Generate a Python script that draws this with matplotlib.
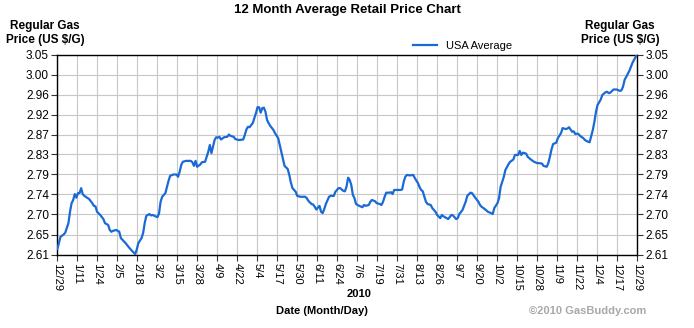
import matplotlib
matplotlib.use('Agg')
import matplotlib.pyplot as plt
import numpy as np

plt.rcParams['font.family'] = ['Liberation Sans', 'DejaVu Sans']

# daily average price, day 0 = 12/29/2009
days = [0, 1, 2, 4, 5, 7, 8, 9, 10, 11, 12, 13, 14, 15, 16, 17, 20, 22, 23, 24,
        25, 27, 29, 30, 32, 33, 34, 35, 37, 39, 40, 43, 45, 47, 49, 50, 51, 53, 54, 55,
        56, 58, 59, 60, 63, 64, 65, 66, 68, 69, 70, 71, 73, 75, 76, 77, 78, 79, 81, 84,
        85, 86, 87, 88, 90, 91, 93, 94, 95, 96, 97, 98, 99, 100, 101, 102, 103, 105, 107, 108,
        109, 111, 112, 114, 115, 117, 118, 119, 120, 121, 123, 124, 125, 126, 127, 128, 129, 130, 131, 132,
        133, 134, 136, 137, 139, 140, 141, 142, 143, 145, 146, 147, 148, 150, 151, 153, 154, 156, 157, 158,
        160, 161, 162, 163, 165, 166, 167, 168, 169, 171, 172, 174, 175, 177, 178, 180, 181, 182, 183, 184,
        185, 186, 187, 188, 190, 192, 193, 194, 196, 197, 198, 200, 201, 203, 204, 205, 206, 207, 209, 210,
        211, 212, 214, 216, 217, 218, 219, 220, 222, 224, 225, 227, 228, 229, 230, 231, 232, 233, 235, 236,
        238, 239, 241, 242, 243, 245, 246, 248, 249, 251, 252, 253, 255, 257, 258, 260, 261, 263, 265, 266,
        267, 269, 271, 273, 274, 275, 277, 278, 279, 281, 282, 284, 285, 287, 288, 290, 291, 292, 293, 295,
        296, 298, 300, 302, 303, 305, 306, 308, 309, 310, 311, 312, 314, 315, 317, 318, 320, 321, 322, 324,
        325, 326, 327, 328, 329, 331, 332, 334, 335, 336, 337, 338, 339, 340, 342, 343, 345, 346, 347, 348,
        350, 351, 352, 354, 355, 356, 357, 359, 360, 361, 362, 364, 365]
prices = [2.622, 2.635, 2.649, 2.654, 2.658, 2.679, 2.704, 2.723, 2.730, 2.743, 2.735, 2.745, 2.745, 2.756, 2.743, 2.739, 2.732, 2.723, 2.717, 2.716,
          2.704, 2.697, 2.688, 2.679, 2.675, 2.664, 2.660, 2.662, 2.664, 2.660, 2.646, 2.635, 2.626, 2.618, 2.611, 2.621, 2.635, 2.646, 2.657, 2.679,
          2.695, 2.699, 2.696, 2.697, 2.692, 2.700, 2.726, 2.737, 2.745, 2.759, 2.772, 2.783, 2.786, 2.786, 2.781, 2.792, 2.807, 2.814, 2.816, 2.816,
          2.813, 2.805, 2.816, 2.803, 2.808, 2.813, 2.814, 2.825, 2.836, 2.851, 2.833, 2.847, 2.862, 2.868, 2.867, 2.869, 2.863, 2.868, 2.869, 2.874,
          2.871, 2.869, 2.864, 2.862, 2.862, 2.863, 2.873, 2.885, 2.891, 2.890, 2.899, 2.910, 2.921, 2.934, 2.934, 2.922, 2.932, 2.933, 2.924, 2.906,
          2.899, 2.893, 2.884, 2.877, 2.866, 2.851, 2.836, 2.822, 2.805, 2.798, 2.785, 2.768, 2.756, 2.748, 2.739, 2.737, 2.737, 2.737, 2.734, 2.728,
          2.721, 2.720, 2.715, 2.709, 2.717, 2.704, 2.701, 2.710, 2.721, 2.737, 2.739, 2.739, 2.748, 2.756, 2.756, 2.750, 2.749, 2.759, 2.779, 2.774,
          2.763, 2.741, 2.734, 2.721, 2.717, 2.714, 2.719, 2.717, 2.719, 2.726, 2.730, 2.727, 2.723, 2.721, 2.719, 2.726, 2.737, 2.746, 2.746, 2.747,
          2.743, 2.752, 2.752, 2.752, 2.753, 2.770, 2.781, 2.785, 2.784, 2.785, 2.778, 2.767, 2.758, 2.752, 2.749, 2.737, 2.726, 2.721, 2.719, 2.712,
          2.704, 2.697, 2.690, 2.697, 2.694, 2.690, 2.688, 2.697, 2.696, 2.688, 2.690, 2.699, 2.708, 2.726, 2.739, 2.746, 2.745, 2.735, 2.726, 2.719,
          2.715, 2.710, 2.704, 2.701, 2.699, 2.712, 2.723, 2.734, 2.759, 2.781, 2.796, 2.809, 2.814, 2.819, 2.829, 2.829, 2.838, 2.829, 2.834, 2.832,
          2.825, 2.819, 2.814, 2.811, 2.811, 2.810, 2.805, 2.803, 2.811, 2.825, 2.841, 2.853, 2.856, 2.866, 2.877, 2.888, 2.886, 2.887, 2.890, 2.880,
          2.881, 2.875, 2.876, 2.875, 2.871, 2.866, 2.862, 2.858, 2.857, 2.871, 2.884, 2.902, 2.924, 2.939, 2.951, 2.961, 2.967, 2.968, 2.965, 2.966,
          2.973, 2.973, 2.973, 2.970, 2.971, 2.979, 2.994, 3.007, 3.014, 3.023, 3.032, 3.045, 3.050]

date_labels = ['12/29', '1/11', '1/24', '2/5', '2/18', '3/2', '3/15', '3/28', '4/9', '4/22',
               '5/4', '5/17', '5/30', '6/11', '6/24', '7/6', '7/19', '7/31', '8/13', '8/26',
               '9/7', '9/20', '10/2', '10/15', '10/28', '11/9', '11/22', '12/4', '12/17', '12/29']
price_labels = ['2.61', '2.65', '2.70', '2.74', '2.79', '2.83', '2.87', '2.92', '2.96', '3.00', '3.05']

y_min, y_max = 2.61, 3.05
x_ticks = np.linspace(0, 365, len(date_labels))
y_ticks = np.linspace(y_min, y_max, len(price_labels))

fig = plt.figure(figsize=(6.94, 3.28), dpi=100)
ax = fig.add_axes([57.3 / 694, 73.5 / 328, 580 / 694, 200 / 328])

ax.plot(days, prices, color='#1a6ad6', linewidth=1.6, label='USA Average', zorder=3)

ax.set_xlim(0, 365)
ax.set_ylim(y_min, y_max)
ax.set_xticks(x_ticks)
ax.set_xticklabels(date_labels, rotation=-90, fontsize=8)
ax.set_yticks(y_ticks)
ax.set_yticklabels(price_labels, fontsize=8.5)
ax.grid(True, color='#c8c8c8', linewidth=0.8)
ax.tick_params(axis='both', length=4, width=0.8, color='#333333', pad=2)
for sp in ax.spines.values():
    sp.set_linewidth(1.0)
    sp.set_color('black')

# same scale repeated on the right side
ax2 = ax.twinx()
ax2.set_ylim(y_min, y_max)
ax2.set_yticks(y_ticks)
ax2.set_yticklabels(price_labels, fontsize=8.5)
ax2.tick_params(axis='y', length=4, width=0.8, color='#333333', pad=2)
for sp in ax2.spines.values():
    sp.set_visible(False)

fig.text(347 / 694, 1 - 10 / 328, '12 Month Average Retail Price Chart',
         ha='center', va='center', fontsize=9.5, fontweight='bold')
fig.text(45 / 694, 1 - 33 / 328, 'Regular Gas\nPrice (US $/G)', ha='center', va='center',
         fontsize=8.5, fontweight='bold', linespacing=1.15)
fig.text(620 / 694, 1 - 33 / 328, 'Regular Gas\nPrice (US $/G)', ha='center', va='center',
         fontsize=8.5, fontweight='bold', linespacing=1.15)

leg = ax.legend(loc='lower left', bbox_to_anchor=(413 / 694, 1 - 51 / 328),
                bbox_transform=fig.transFigure, frameon=False, fontsize=8,
                handlelength=2.2, handletextpad=0.8, borderpad=0, borderaxespad=0)

fig.text(359 / 694, 1 - 294 / 328, '2010', ha='center', va='center',
         fontsize=8, fontweight='bold')
fig.text(322 / 694, 1 - 311 / 328, 'Date (Month/Day)', ha='center', va='center',
         fontsize=8, fontweight='bold')
fig.text(588 / 694, 1 - 311 / 328, '\u00a92010 GasBuddy.com', ha='center', va='center',
         fontsize=8, fontweight='bold', color='#a8a8a8')

fig.savefig('out.png', dpi=100)
